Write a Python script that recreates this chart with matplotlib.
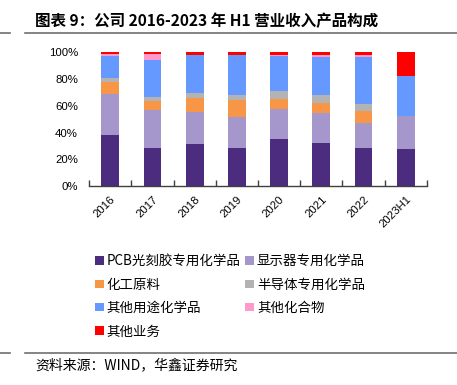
import numpy as np
import matplotlib.pyplot as plt
from matplotlib.patches import Patch
from matplotlib.lines import Line2D

plt.rcParams['font.family'] = ['Liberation Sans', 'Noto Sans CJK SC', 'DejaVu Sans']

years = ['2016', '2017', '2018', '2019', '2020', '2021', '2022', '2023H1']

# 各产品收入占比（%）
pcb = [38.0, 28.75, 31.75, 28.5, 35.0, 32.0, 28.25, 28.0]
display = [31.0, 28.0, 23.75, 23.0, 22.5, 22.25, 18.5, 24.5]
raw_chem = [9.0, 6.75, 10.25, 13.0, 7.5, 7.75, 9.25, 0.0]
semi = [2.5, 3.25, 3.5, 3.5, 6.0, 6.0, 5.5, 0.0]
other_use = [16.5, 27.75, 28.5, 29.75, 26.0, 28.75, 34.75, 30.0]
other_comp = [1.75, 4.25, 0.5, 0.3, 0.75, 1.5, 2.0, 0.0]
other_biz = [1.25, 1.25, 1.75, 1.95, 2.25, 1.75, 1.75, 17.5]

series = [
    ('PCB光刻胶专用化学品', pcb, '#4B2C7F'),
    ('显示器专用化学品', display, '#A597CC'),
    ('化工原料', raw_chem, '#F79646'),
    ('半导体专用化学品', semi, '#B3B3B3'),
    ('其他用途化学品', other_use, '#6699FF'),
    ('其他化合物', other_comp, '#FF99CC'),
    ('其他业务', other_biz, '#FF0000'),
]

fig = plt.figure(figsize=(4.57, 3.85), dpi=100)
ax = fig.add_axes([0.195, 0.517, 0.739, 0.347])

x = np.arange(len(years))
bottom = np.zeros(len(years))
for name, vals, col in series:
    vals = np.array(vals)
    ax.bar(x, vals, width=0.42, bottom=bottom, color=col, label=name)
    bottom += vals

ax.set_xlim(-0.5, len(years) - 0.5)
ax.set_ylim(0, 100)
ax.set_yticks(np.arange(0, 101, 20))
ax.set_yticklabels([f'{v}%' for v in range(0, 101, 20)], fontsize=8.2)
ax.tick_params(axis='y', length=0, pad=8)

ax.set_xticks(x)
ax.set_xticklabels(years, rotation=45, ha='right', va='top',
                   rotation_mode='anchor', fontsize=8.2)
ax.set_xticks(np.arange(-0.5, len(years)), minor=True)
ax.tick_params(axis='x', which='major', length=0, pad=6)
ax.tick_params(axis='x', which='minor', direction='in', length=4,
               width=1, color='#404040')

for s in ['top', 'right', 'left']:
    ax.spines[s].set_visible(False)
ax.spines['bottom'].set_color('#404040')
ax.spines['bottom'].set_linewidth(1)

# 图例：两列，按行排列
order = [0, 2, 4, 6, 1, 3, 5]
handles = [Patch(facecolor=series[i][2], label=series[i][0]) for i in order]
fig.legend(handles=handles, ncol=2, loc='upper left',
           bbox_to_anchor=(0.197, 0.354), frameon=False,
           prop={'family': ['Noto Sans CJK SC'], 'size': 9.7},
           handlelength=0.6, handleheight=0.6, handletextpad=0.25,
           columnspacing=0.35, labelspacing=0.7, borderaxespad=0)

# 标题与来源
fig.text(0.077, 0.944, '图表 9：公司 2016-2023 年 H1 营业收入产品构成',
         fontsize=11.2, fontweight='bold', family=['Noto Sans CJK SC'],
         va='center')
for yy in (0.914, 0.083):
    fig.add_artist(Line2D([0.055, 1.0], [yy, yy], color='#707070', lw=1.2))
    fig.add_artist(Line2D([0.0, 0.022], [yy, yy], color='#707070', lw=1.2))
fig.text(0.077, 0.052, '资料来源：WIND，华鑫证券研究', fontsize=10,
         family=['Noto Sans CJK SC'], va='center')

fig.savefig('out.png', dpi=100)
